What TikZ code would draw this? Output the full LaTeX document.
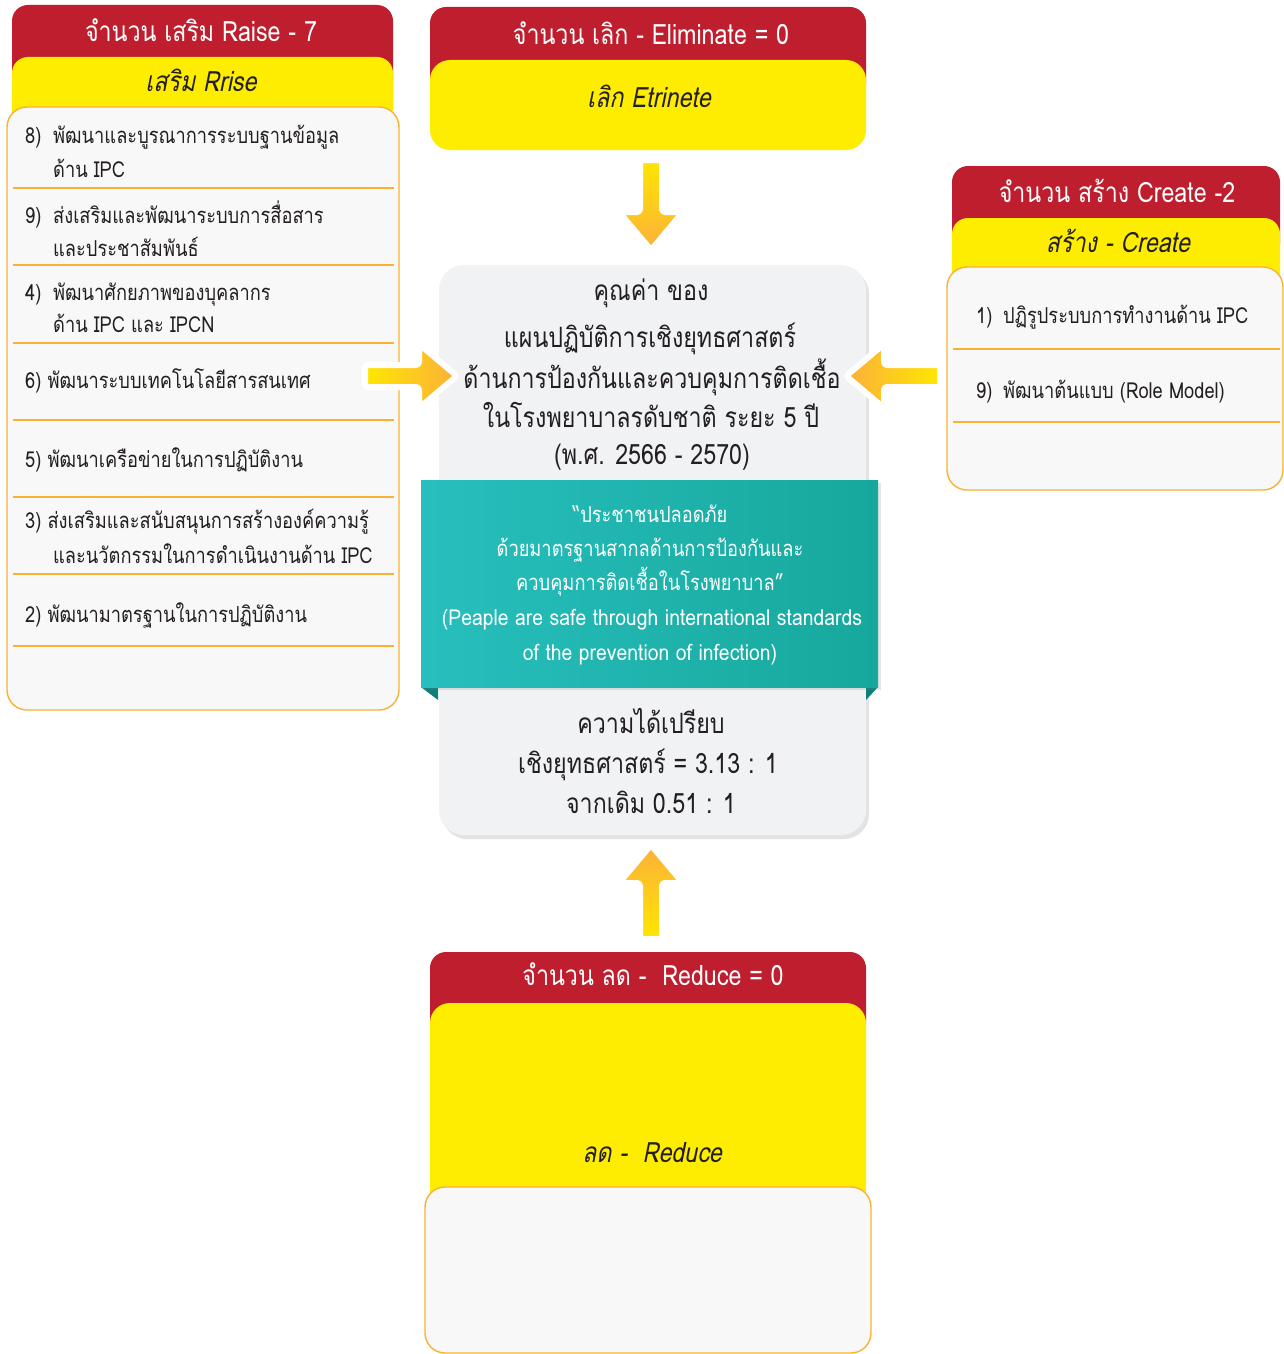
\documentclass[tikz,border=0pt]{standalone}
\usepackage{fontspec}
\setmainfont[Script=Thai, FakeStretch=0.83]{Loma}
\newfontfamily\slantfont[Script=Thai, FakeStretch=0.83, FakeSlant=0.2]{Loma}
\newfontfamily\latinfont[FakeStretch=0.88]{Loma}
\usetikzlibrary{shadows,calc}

\definecolor{boxred}{HTML}{BE1E2D}
\definecolor{bandyellow}{HTML}{FFED00}
\definecolor{edgeorange}{HTML}{F9B233}
\definecolor{panelgrey}{HTML}{F8F8F8}
\definecolor{coregrey}{HTML}{F1F2F4}
\definecolor{ink}{HTML}{231F20}
\definecolor{tealA}{HTML}{27BFBD}
\definecolor{tealB}{HTML}{17A89C}
\definecolor{tealfold}{HTML}{0B7F7A}
\definecolor{arrowyel}{HTML}{FFE600}
\definecolor{arroworg}{HTML}{FBB03B}

\begin{document}
\begin{tikzpicture}[x=1pt, y=-1pt,
  redhead/.style={fill=boxred, rounded corners=16pt},
  yellowband/.style={fill=bandyellow, rounded corners=16pt},
  panel/.style={fill=panelgrey, draw=edgeorange, line width=1.4pt, rounded corners=20pt},
  rowline/.style={draw=edgeorange, line width=1.2pt},
  headtxt/.style={text=white, font=\fontsize{28}{34}\selectfont, anchor=base, inner sep=0pt},
  bandtxt/.style={text=ink, font=\slantfont\fontsize{28}{34}\selectfont, anchor=base, inner sep=0pt},
  itemtxt/.style={text=ink, font=\fontsize{22}{30}\selectfont, anchor=base west, inner sep=0pt},
  coretxt/.style={text=ink, font=\fontsize{28}{34}\selectfont, anchor=base, inner sep=0pt},
  visiontxt/.style={text=white, font=\fontsize{22}{30}\selectfont, anchor=base, inner sep=0pt},
  arrowbody/.style={rounded corners=3pt, draw=white, line width=6pt, line join=round,
    drop shadow={opacity=0.25, shadow xshift=2pt, shadow yshift=-2pt}},
  coreback/.style={fill=coregrey, rounded corners=25pt,
    drop shadow={opacity=0.22, shadow xshift=3pt, shadow yshift=-4pt}}
]
\useasboundingbox (0,0) rectangle (1284,1354);
\fill[white] (0,0) rectangle (1284,1354);

% ---------- Raise column ----------
\path[redhead] (12,5) rectangle (393,125);
\path[yellowband] (12,57) rectangle (393,140);
\path[panel] (7,107) rectangle (399,710);
\foreach \yy in {188,265,343,420,497,574,646}
  \draw[rowline] (13,\yy) -- (394,\yy);
\node[headtxt] (raiseHead) at (201,42) {จำนวน เสริม Raise - 7};
\node[bandtxt] (raiseBand) at (201,92) {เสริม Rrise};

\node[itemtxt] (r8n) at (25,143) {8)};
\node[itemtxt] (r8a) at (53,143) {พัฒนาและบูรณาการระบบฐานข้อมูล};
\node[itemtxt] (r8b) at (53,177) {ด้าน IPC};
\node[itemtxt] (r9n) at (25,223) {9)};
\node[itemtxt] (r9a) at (53,223) {ส่งเสริมและพัฒนาระบบการสื่อสาร};
\node[itemtxt] (r9b) at (53,256) {และประชาสัมพันธ์};
\node[itemtxt] (r4n) at (25,300) {4)};
\node[itemtxt] (r4a) at (53,300) {พัฒนาศักยภาพของบุคลากร};
\node[itemtxt] (r4b) at (53,332) {ด้าน IPC และ IPCN};
\node[itemtxt] (r6) at (25,388) {6) พัฒนาระบบเทคโนโลยีสารสนเทศ};
\node[itemtxt] (r5) at (25,467) {5) พัฒนาเครือข่ายในการปฏิบัติงาน};
\node[itemtxt] (r3a) at (25,528) {3) ส่งเสริมและสนับสนุนการสร้างองค์ความรู้};
\node[itemtxt] (r3b) at (53,563) {และนวัตกรรมในการดำเนินงานด้าน IPC};
\node[itemtxt] (r2) at (25,622) {2) พัฒนามาตรฐานในการปฏิบัติงาน};

% ---------- Eliminate box ----------
\path[redhead] (430,7) rectangle (866,100);
\path[yellowband, rounded corners=20pt] (430,60) rectangle (866,150);
\node[headtxt] (elimHead) at (651,45) {จำนวน เลิก - Eliminate = 0};
\node[bandtxt] (elimBand) at (649,107) {เลิก Etrinete};

% ---------- Create column ----------
\path[redhead] (952,166) rectangle (1280,260);
\path[yellowband] (952,218) rectangle (1280,300);
\path[panel] (947,267) rectangle (1283,490);
\foreach \yy in {349,422}
  \draw[rowline] (953,\yy) -- (1280,\yy);
\node[headtxt] (creHead) at (1117,202) {จำนวน สร้าง Create -2};
\node[bandtxt] (creBand) at (1118,252) {สร้าง - Create};
\node[itemtxt] (c1n) at (976,323) {1)};
\node[itemtxt] (c1) at (1003,323) {ปฏิรูประบบการทำงานด้าน IPC};
\node[itemtxt] (c9n) at (976,398) {9)};
\node[itemtxt] (c9) at (1003,398) {พัฒนาต้นแบบ (Role Model)};

% ---------- Reduce box ----------
\path[redhead] (430,952) rectangle (866,1040);
\path[yellowband, rounded corners=20pt] (430,1003) rectangle (866,1210);
\path[panel] (425,1187) rectangle (871,1353);
\node[headtxt] (redHead) at (653,985) {จำนวน ลด -~~Reduce = 0};
\node[bandtxt] (redBand) at (652,1162) {ลด -~~Reduce};

% ---------- Core value card ----------
\path[coreback] (439,265) rectangle (866,835);
\node[coretxt] (core1) at (651,300) {คุณค่า ของ};
\node[coretxt] (core2) at (650,347) {แผนปฏิบัติการเชิงยุทธศาสตร์};
\node[coretxt] (core3) at (652,388) {ด้านการป้องกันและควบคุมการติดเชื้อ};
\node[coretxt] (core4) at (651,427) {ในโรงพยาบาลรดับชาติ ระยะ 5 ปี};
\node[coretxt] (core5) at (652,464) {(พ.ศ. 2566 - 2570)};

% vision ribbon with folded corners
\fill[tealfold] (421,687) -- (438,687) -- (438,700) -- cycle;
\fill[tealfold] (878,687) -- (866,687) -- (866,700) -- cycle;
\path[left color=tealA, right color=tealB,
  drop shadow={opacity=0.2, shadow xshift=3pt, shadow yshift=-3pt}] (421,480) rectangle (878,687);
\node[visiontxt] (vis1) at (650,522) {“ประชาชนปลอดภัย};
\node[visiontxt] (vis2) at (650,556) {ด้วยมาตรฐานสากลด้านการป้องกันและ};
\node[visiontxt] (vis3) at (650,590) {ควบคุมการติดเชื้อในโรงพยาบาล”};
\node[visiontxt, font=\latinfont\fontsize{22}{30}\selectfont] (vis4) at (652,625) {(Peaple are safe through international standards};
\node[visiontxt, font=\latinfont\fontsize{22}{30}\selectfont] (vis5) at (650,660) {of the prevention of infection)};

\node[coretxt] (adv1) at (651,733) {ความได้เปรียบ};
\node[coretxt] (adv2) at (648,773) {เชิงยุทธศาสตร์ = 3.13 : 1};
\node[coretxt] (adv3) at (651,813) {จากเดิม 0.51 : 1};

% ---------- Arrows into the core card ----------
\coordinate (dTop) at (651,160);
\coordinate (dTip) at (651,250);
\coordinate (uBot) at (651,939);
\coordinate (uTip) at (651,845);
\coordinate (rBeg) at (365,376);
\coordinate (rTip) at (457,376);
\coordinate (lBeg) at (940,376);
\coordinate (lTip) at (846,376);

\path[arrowbody, top color=arrowyel, bottom color=arroworg]
  ([xshift=-11pt]dTop) -- ([xshift=11pt]dTop) -- ([xshift=11pt,yshift=38pt]dTip)
  -- ([xshift=32pt,yshift=38pt]dTip) -- (dTip) -- ([xshift=-32pt,yshift=38pt]dTip)
  -- ([xshift=-11pt,yshift=38pt]dTip) -- cycle;
\path[arrowbody, top color=arroworg, bottom color=arrowyel]
  ([xshift=-11pt]uBot) -- ([xshift=11pt]uBot) -- ([xshift=11pt,yshift=-38pt]uTip)
  -- ([xshift=32pt,yshift=-38pt]uTip) -- (uTip) -- ([xshift=-32pt,yshift=-38pt]uTip)
  -- ([xshift=-11pt,yshift=-38pt]uTip) -- cycle;
\path[arrowbody, left color=arrowyel, right color=arroworg]
  ([yshift=11pt]rBeg) -- ([yshift=-11pt]rBeg) -- ([xshift=-38pt,yshift=-11pt]rTip)
  -- ([xshift=-38pt,yshift=-32pt]rTip) -- (rTip) -- ([xshift=-38pt,yshift=32pt]rTip)
  -- ([xshift=-38pt,yshift=11pt]rTip) -- cycle;
\path[arrowbody, left color=arroworg, right color=arrowyel]
  ([yshift=11pt]lBeg) -- ([yshift=-11pt]lBeg) -- ([xshift=38pt,yshift=-11pt]lTip)
  -- ([xshift=38pt,yshift=-32pt]lTip) -- (lTip) -- ([xshift=38pt,yshift=32pt]lTip)
  -- ([xshift=38pt,yshift=11pt]lTip) -- cycle;
\end{tikzpicture}
\end{document}
